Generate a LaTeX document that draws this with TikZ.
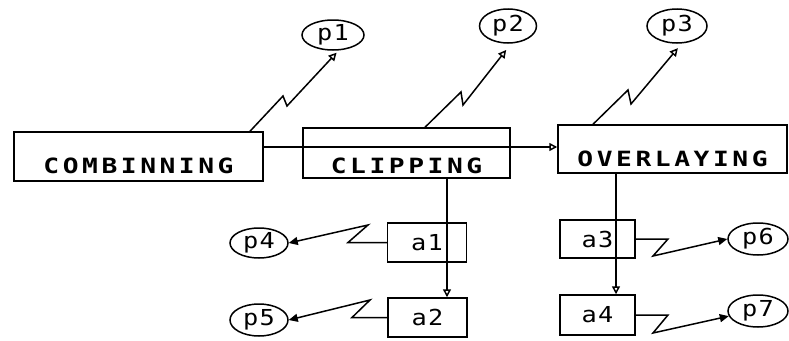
\documentclass[tikz,border=0pt]{standalone}
\usepackage{fontspec}
\newfontfamily\bigfont[FakeStretch=1.25,LetterSpace=17]{DejaVu Sans Mono}
\newfontfamily\smallfont[FakeStretch=1.15,LetterSpace=6]{DejaVu Sans Mono}
\usetikzlibrary{arrows.meta,shapes.geometric}
\begin{document}
\begin{tikzpicture}[x=1pt,y=-1pt,line width=1.5pt,
  bigbox/.style={draw,rectangle,inner sep=0pt,text height=40pt,text depth=6pt,
    font=\bigfont\bfseries\fontsize{21pt}{21pt}\selectfont},
  smallbox/.style={draw,rectangle,inner sep=0pt,minimum width=79pt,minimum height=39pt,
    font=\smallfont\fontsize{22pt}{22pt}\selectfont},
  ell/.style={draw,ellipse,inner sep=0pt,font=\smallfont\fontsize{22pt}{22pt}\selectfont},
  openarr/.style={-{Triangle[open,length=8pt,width=8pt]}},
  fillarr/.style={-{Triangle[length=9pt,width=8pt]}}]
\useasboundingbox (0,0) rectangle (789,340);
% main boxes
\node[bigbox,minimum width=249pt,minimum height=49pt] (comb) at (138.5,156.5) {COMBINNING};
\node[bigbox,minimum width=207pt,minimum height=50pt,text height=44pt,text depth=4pt] (clip) at (406.5,153) {CLIPPING};
\node[bigbox,minimum width=229pt,minimum height=48pt] (over) at (672.5,149) {OVERLAYING};
% small boxes
\node[smallbox] (a1) at (427,242.5) {a1};
\node[smallbox] (a2) at (427.5,317.5) {a2};
\node[smallbox,minimum width=75pt,minimum height=38pt] (a3) at (597.5,239) {a3};
\node[smallbox,minimum width=75pt,minimum height=40pt] (a4) at (597.5,315) {a4};
% ellipses
\node[ell,minimum width=62pt,minimum height=30pt] (p1) at (333,35) {p1};
\node[ell,minimum width=57pt,minimum height=34pt] (p2) at (508,26) {p2};
\node[ell,minimum width=60pt,minimum height=34pt] (p3) at (677,26) {p3};
\node[ell,minimum width=58pt,minimum height=30pt] (p4) at (259,243) {p4};
\node[ell,minimum width=58pt,minimum height=32pt] (p5) at (259,320) {p5};
\node[ell,minimum width=60pt,minimum height=32pt] (p6) at (758,239) {p6};
\node[ell,minimum width=60pt,minimum height=32pt] (p7) at (758,311) {p7};
% helper coordinates
\coordinate (hy) at (0,147);
\coordinate (vl) at (447,0);
\coordinate (vr) at (616,0);
\coordinate (z1s) at (250,0);
\coordinate (z1a) at (283,96);
\coordinate (z1b) at (287,106);
\coordinate (z2s) at (425,0);
\coordinate (z2a) at (461,92);
\coordinate (z2b) at (463,105);
\coordinate (z3s) at (593,0);
\coordinate (z3a) at (628,90);
\coordinate (z3b) at (631,104);
\coordinate (z4a) at (348,242.5);
\coordinate (z4b) at (368,225);
\coordinate (z5a) at (352,317.5);
\coordinate (z5b) at (370,300);
\coordinate (z6a) at (668,239);
\coordinate (z6b) at (653,256);
\coordinate (z7a) at (668,315);
\coordinate (z7b) at (653,333);
% connectors
\draw[openarr] (comb.east |- hy) -- (over.west |- hy);
\draw[openarr] (clip.south -| vl) -- (a2.north -| vl);
\draw[openarr] (over.south -| vr) -- (a4.north -| vr);
\draw[openarr,shorten >=3pt] (comb.north -| z1s) -- (z1a) -- (z1b) -- (p1.-70);
\draw[openarr,shorten >=8pt] (clip.north -| z2s) -- (z2a) -- (z2b) -- (p2.-80);
\draw[openarr,shorten >=6pt] (over.north -| z3s) -- (z3a) -- (z3b) -- (p3.-75);
\draw[fillarr] (a1.west) -- (z4a) -- (z4b) -- (p4.east);
\draw[fillarr] (a2.west) -- (z5a) -- (z5b) -- (p5.east);
\draw[fillarr] (a3.east) -- (z6a) -- (z6b) -- (p6.west);
\draw[fillarr] (a4.east) -- (z7a) -- (z7b) -- (p7.190);
\end{tikzpicture}
\end{document}
